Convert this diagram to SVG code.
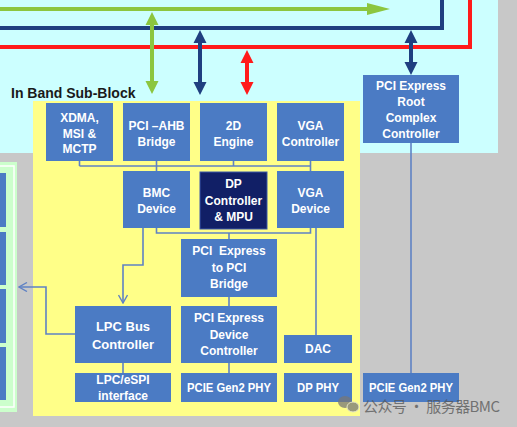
<svg xmlns="http://www.w3.org/2000/svg" width="517" height="427" viewBox="0 0 517 427">
<defs>
<style>
.box{fill:#4b7bc4}
.dp{fill:#111f66;stroke:#3b56a8;stroke-width:1}
.t{font-family:"Liberation Sans",Arial,sans-serif;font-weight:bold;font-size:12px;fill:#ffffff;text-anchor:middle}
.t13{font-size:13px}
.c{fill:none;stroke:#5f82c4;stroke-width:1.6}
.bus{fill:none;stroke-width:4}
</style>
<marker id="chev" viewBox="0 0 10 10" refX="9" refY="5" markerWidth="10" markerHeight="10" markerUnits="userSpaceOnUse" orient="auto">
<path d="M1,0.5 L9,5 L1,9.5" fill="none" stroke="#5f82c4" stroke-width="1.4"/>
</marker>
</defs>

<g id="background">
<rect x="0" y="0" width="517" height="427" fill="#c8c8c8"/>
<rect x="0" y="0" width="498" height="153" fill="#ccffff"/>
<rect x="0" y="162" width="17" height="250" fill="#ccffcc"/>
<rect x="-3" y="166" width="17" height="241" fill="none" stroke="#ffffff" stroke-width="1.5"/>
<rect x="0" y="173" width="6" height="54" class="box"/>
<rect x="0" y="232" width="6" height="53" class="box"/>
<rect x="0" y="289" width="6" height="54" class="box"/>
<rect x="0" y="347" width="6" height="53" class="box"/>
<rect x="33" y="101" width="327" height="315" fill="#ffff88"/>
<text x="11" y="98" style="font-family:'Liberation Sans',Arial,sans-serif;font-weight:bold;font-size:14px;fill:#1a1a1a">In Band Sub-Block</text>
</g>

<g id="buses">
<path class="bus" stroke="#8cc63f" d="M0,9 H370"/>
<path fill="#8cc63f" d="M367,3 L390,9 L367,15 Z"/>
<path class="bus" stroke="#1f3f80" d="M0,28 H442 V0"/>
<path class="bus" stroke="#ff1a1a" d="M0,47 H470 V0"/>
<g id="green-arrow">
<path class="bus" stroke="#8cc63f" d="M152,22 V84"/>
<path fill="#8cc63f" d="M152,12 L158.5,25 L145.5,25 Z M152,94 L158.5,81 L145.5,81 Z"/>
</g>
<g id="blue-arrow-1">
<path class="bus" stroke="#1f3f80" d="M200,40 V85"/>
<path fill="#1f3f80" d="M200,30 L206.5,43 L193.5,43 Z M200,95 L206.5,82 L193.5,82 Z"/>
</g>
<g id="red-arrow">
<path class="bus" stroke="#ff1a1a" d="M247,60 V85"/>
<path fill="#ff1a1a" d="M247,50 L253.5,63 L240.5,63 Z M247,95 L253.5,82 L240.5,82 Z"/>
</g>
<g id="blue-arrow-2">
<path class="bus" stroke="#1f3f80" d="M411,40 V65"/>
<path fill="#1f3f80" d="M411,30 L417.5,43 L404.5,43 Z M411,75 L417.5,62 L404.5,62 Z"/>
</g>
</g>

<g id="connectors">
<path class="c" d="M79.5,161 V166 M156.5,161 V171 M233.5,161 V166 M310.5,161 V171 M79.5,166 H310.5"/>
<path class="c" d="M156.5,228 V233 H310.5 V228 M229,233 V239"/>
<path class="c" d="M316,228 V335"/>
<path class="c" d="M229,297 V306 M229,363 V373 M123,363 V373"/>
<path class="c" d="M411,143 V373"/>
<path class="c" d="M143,228 V265 H123 V303" marker-end="url(#chev)"/>
<path class="c" d="M75,334 H46 V287 H19" marker-end="url(#chev)"/>
</g>

<g id="xdma"><rect class="box" x="46" y="103" width="67" height="58"/>
<text class="t" x="79.5" y="122">XDMA,</text><text class="t" x="79.5" y="137.5">MSI &amp;</text><text class="t" x="79.5" y="153">MCTP</text></g>
<g id="pci-ahb"><rect class="box" x="123" y="103" width="67" height="58"/>
<text class="t" x="156.5" y="130">PCI –AHB</text><text class="t" x="156.5" y="146">Bridge</text></g>
<g id="engine2d"><rect class="box" x="200" y="103" width="67" height="58"/>
<text class="t" x="233.5" y="130">2D</text><text class="t" x="233.5" y="146">Engine</text></g>
<g id="vga-ctrl"><rect class="box" x="277" y="103" width="67" height="58"/>
<text class="t" x="310.5" y="130">VGA</text><text class="t" x="310.5" y="146">Controller</text></g>

<g id="bmc"><rect class="box" x="123" y="171" width="67" height="57"/>
<text class="t" x="156.5" y="197">BMC</text><text class="t" x="156.5" y="213">Device</text></g>
<g id="dp-ctrl"><rect class="dp" x="200" y="172" width="67" height="57"/>
<text class="t" x="233.5" y="188">DP</text><text class="t" x="233.5" y="205">Controller</text><text class="t" x="233.5" y="221">&amp; MPU</text></g>
<g id="vga-dev"><rect class="box" x="277" y="171" width="67" height="57"/>
<text class="t" x="310.5" y="197">VGA</text><text class="t" x="310.5" y="213">Device</text></g>

<g id="pcie-pci"><rect class="box" x="181" y="239" width="96" height="58"/>
<text class="t" x="229" y="255" xml:space="preserve">PCI  Express</text><text class="t" x="229" y="272">to PCI</text><text class="t" x="229" y="288">Bridge</text></g>

<g id="lpc"><rect class="box" x="75" y="306" width="96" height="57"/>
<text class="t t13" x="123" y="331">LPC Bus</text><text class="t t13" x="123" y="349">Controller</text></g>
<g id="pcie-dev"><rect class="box" x="181" y="306" width="96" height="57"/>
<text class="t" x="229" y="322">PCI Express</text><text class="t" x="229" y="339">Device</text><text class="t" x="229" y="355">Controller</text></g>
<g id="dac"><rect class="box" x="284" y="335" width="68" height="28"/>
<text class="t" x="318" y="353">DAC</text></g>

<g id="lpc-espi"><rect class="box" x="75" y="373" width="96" height="29"/>
<text class="t" x="123" y="384">LPC/eSPI</text><text class="t" x="123" y="400">interface</text></g>
<g id="pcie-phy-1"><rect class="box" x="181" y="373" width="96" height="29"/>
<text class="t" x="229" y="392" textLength="84" lengthAdjust="spacingAndGlyphs">PCIE Gen2 PHY</text></g>
<g id="dp-phy"><rect class="box" x="284" y="373" width="68" height="29"/>
<text class="t" x="318" y="392" textLength="42" lengthAdjust="spacingAndGlyphs">DP PHY</text></g>
<g id="pcie-phy-2"><rect class="box" x="363" y="373" width="96" height="29"/>
<text class="t" x="411" y="392" textLength="84" lengthAdjust="spacingAndGlyphs">PCIE Gen2 PHY</text></g>

<g id="pcie-root"><rect class="box" x="363" y="75" width="96" height="68"/>
<text class="t" x="411" y="90">PCI Express</text><text class="t" x="411" y="106">Root</text><text class="t" x="411" y="122">Complex</text><text class="t" x="411" y="138">Controller</text></g>

<g id="watermark" opacity="0.75">
<ellipse cx="345" cy="402" rx="7" ry="6" fill="#777"/>
<ellipse cx="353" cy="407" rx="6" ry="5" fill="#777" stroke="#ddd" stroke-width="1"/>
<text x="363" y="412" textLength="137" style="font-family:'Noto Sans CJK SC',sans-serif;font-size:15px;fill:#555">公众号 · 服务器BMC</text>
</g>
</svg>
